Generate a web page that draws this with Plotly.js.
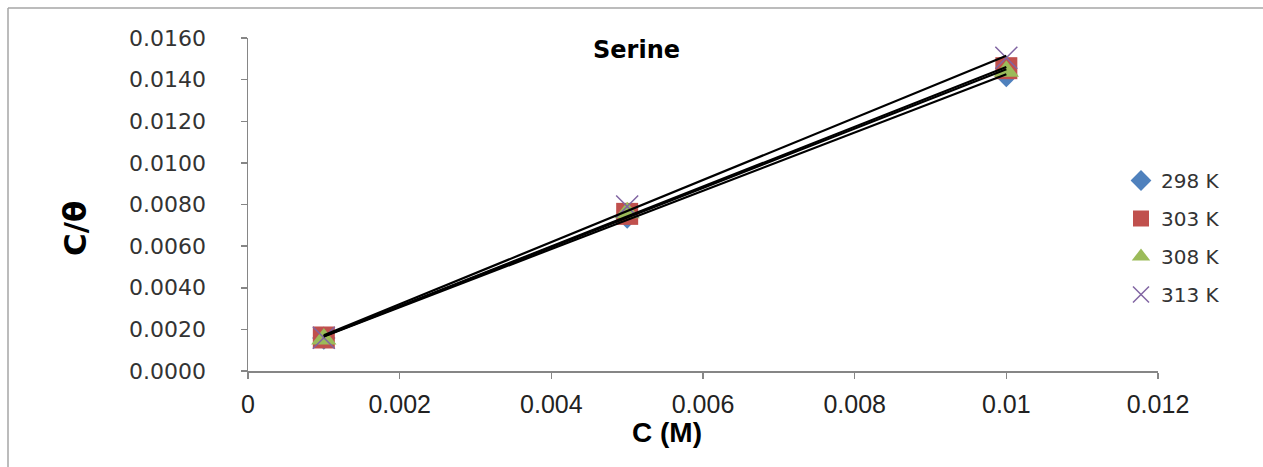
<!DOCTYPE html>
<html>
<head>
<meta charset="utf-8">
<script src="https://cdn.plot.ly/plotly-3.0.1.min.js"></script>
<style>html,body{margin:0;padding:0;background:#fff;}#chart{width:1263px;height:467px;}</style>
</head>
<body>
<div id="chart"></div>
<script>
const concentration = [0.001, 0.005, 0.01];
const seriesNames = ["298 K", "303 K", "308 K", "313 K"];
const y298 = [0.00158, 0.00740, 0.01420];
const y303 = [0.00161, 0.00755, 0.01455];
const y308 = [0.00154, 0.00760, 0.01440];
const y313 = [0.00160, 0.00790, 0.01505];
const xTickVals = [0, 0.002, 0.004, 0.006, 0.008, 0.01, 0.012];
const xTickText = ["0", "0.002", "0.004", "0.006", "0.008", "0.01", "0.012"];
const yTickVals = [0, 0.002, 0.004, 0.006, 0.008, 0.010, 0.012, 0.014, 0.016];
const yTickText = ["0.0000", "0.0020", "0.0040", "0.0060", "0.0080", "0.0100", "0.0120", "0.0140", "0.0160"];
const chartTitle = "Serine";
const xTitle = "C (M)";
const yTitle = "C/θ";

const allY = [y298, y303, y308, y313];
const markerStyles = [
  {symbol: "diamond", size: 18, color: "#4F81BD"},
  {symbol: "square", size: 22, color: "#C0504D"},
  {symbol: "triangle-up", size: 22, color: "#9BBB59"},
  {symbol: "x-thin-open", size: 22, color: "#8064A2", line: {color: "#8064A2", width: 1.5}}
];

function linFit(xs, ys) {
  const n = xs.length;
  const mx = xs.reduce((a, b) => a + b, 0) / n;
  const my = ys.reduce((a, b) => a + b, 0) / n;
  let sxy = 0, sxx = 0;
  for (let i = 0; i < n; i++) { sxy += (xs[i] - mx) * (ys[i] - my); sxx += (xs[i] - mx) ** 2; }
  const m = sxy / sxx;
  return {m: m, b: my - m * mx};
}

const traces = [];
allY.forEach((ys, i) => {
  const ms = markerStyles[i];
  const mk = {symbol: ms.symbol, size: ms.size, color: ms.color};
  if (ms.line) mk.line = ms.line;
  traces.push({
    type: "scatter", mode: "markers", x: concentration, y: ys, name: seriesNames[i],
    marker: mk, legendgroup: "g" + i, cliponaxis: false
  });
});
allY.forEach((ys, i) => {
  const f = linFit(concentration, ys);
  const x0 = Math.min(...concentration), x1 = Math.max(...concentration);
  traces.push({
    type: "scatter", mode: "lines", x: [x0, x1], y: [f.m * x0 + f.b, f.m * x1 + f.b],
    line: {color: "#000000", width: 2.2}, showlegend: false, hoverinfo: "skip"
  });
});

const L = 248, R = 1158, T = 38, B = 371;
const px2x = p => (p - L) / (R - L);
const px2y = p => (B - p) / (B - T);

const layout = {
  width: 1263, height: 467,
  margin: {l: L, r: 1263 - R, t: T, b: 467 - B},
  paper_bgcolor: "#ffffff", plot_bgcolor: "#ffffff",
  showlegend: true,
  xaxis: {
    range: [0, 0.012], tickmode: "array", tickvals: xTickVals, ticktext: xTickText,
    showgrid: false, zeroline: false, showline: true, linecolor: "#868686", linewidth: 1.5,
    ticks: "outside", ticklen: 6, tickcolor: "#868686", tickwidth: 1.5,
    ticklabelstandoff: 4,
    tickfont: {family: "Liberation Sans", size: 25, color: "#222222"}
  },
  yaxis: {
    range: [0, 0.016], tickmode: "array", tickvals: yTickVals, ticktext: yTickText,
    showgrid: false, zeroline: false, showline: true, linecolor: "#868686", linewidth: 1.5,
    ticks: "outside", ticklen: 6, tickcolor: "#868686", tickwidth: 1.5,
    ticklabelstandoff: 30,
    tickfont: {family: "DejaVu Sans", size: 22, color: "#333333"}
  },
  legend: {
    x: px2x(1121), xanchor: "left", y: px2y(161), yanchor: "top", xref: "paper", yref: "paper",
    traceorder: "grouped", tracegroupgap: 9, bgcolor: "rgba(0,0,0,0)",
    font: {family: "DejaVu Sans", size: 20, color: "#333333"}, itemwidth: 30
  },
  annotations: [
    {text: "<b>" + chartTitle + "</b>", xref: "paper", yref: "paper", x: px2x(636), y: px2y(50),
     xanchor: "center", yanchor: "middle", showarrow: false,
     font: {family: "DejaVu Sans", size: 24, color: "#000000"}},
    {text: "<b>" + xTitle + "</b>", xref: "paper", yref: "paper", x: px2x(667), y: px2y(432),
     xanchor: "center", yanchor: "middle", showarrow: false,
     font: {family: "Liberation Sans", size: 28, color: "#000000"}},
    {text: "<b>" + yTitle + "</b>", xref: "paper", yref: "paper", x: px2x(75), y: px2y(229),
     xanchor: "center", yanchor: "middle", showarrow: false, textangle: -90,
     font: {family: "DejaVu Sans", size: 31, color: "#000000"}}
  ],
  shapes: [
    {type: "line", xref: "paper", yref: "paper", x0: px2x(8), x1: px2x(1300), y0: px2y(8), y1: px2y(8),
     line: {color: "#a6a6a6", width: 1.5}, layer: "below"},
    {type: "line", xref: "paper", yref: "paper", x0: px2x(8), x1: px2x(8), y0: px2y(8), y1: px2y(520),
     line: {color: "#a6a6a6", width: 1.5}, layer: "below"}
  ]
};

Plotly.newPlot("chart", traces, layout, {displayModeBar: false, staticPlot: true});
</script>
</body>
</html>
